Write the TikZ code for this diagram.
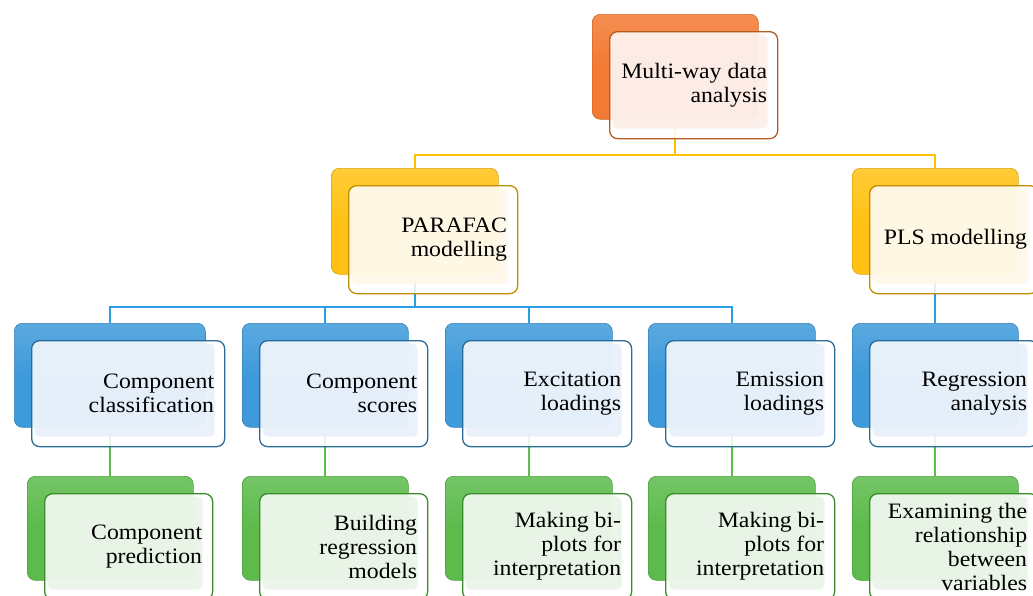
\documentclass[tikz,border=0pt]{standalone}
\usepackage{fontspec}
\setmainfont[FakeStretch=1.08]{Liberation Serif}
\usetikzlibrary{calc,backgrounds}
\definecolor{orback}{HTML}{F37A33}
\definecolor{orline}{HTML}{B55A22}
\definecolor{orfill}{HTML}{FDEDE6}
\definecolor{yeback}{HTML}{FFC214}
\definecolor{yeline}{HTML}{BF8F00}
\definecolor{yefill}{HTML}{FEF8E6}
\definecolor{blback}{HTML}{3E9ADA}
\definecolor{blline}{HTML}{2B6B97}
\definecolor{blfill}{HTML}{E6F0FA}
\definecolor{grback}{HTML}{5CBB4B}
\definecolor{grline}{HTML}{3B8A2E}
\definecolor{grfill}{HTML}{E9F4E6}
\definecolor{conY}{HTML}{FFC000}
\definecolor{conB}{HTML}{2C9FE4}
\definecolor{conG}{HTML}{5DBF4B}
\tikzset{
  backbox/.style={anchor=north west, inner sep=0pt, rounded corners=8pt,
    draw=#1back!85!black, line width=0.6pt,
    top color=#1back!85!white, bottom color=#1back, middle color=#1back},
  frontbox/.style={anchor=north west, rounded corners=8pt, draw=#1line,
    line width=1.3pt, fill=white, fill opacity=0.85, inner sep=0pt,
    path picture={\fill[#1fill, rounded corners=5pt]
      ([shift={(3pt,-3pt)}]path picture bounding box.north west) rectangle
      ([shift={(-10pt,10pt)}]path picture bounding box.south east);}},
  boxtext/.style={anchor=east, inner sep=0pt, align=right,
    font=\fontsize{22}{24}\selectfont},
  conn/.style={line width=2pt, draw=#1}
}
\newcommand\tierbox[7]{%
  \node[backbox=#6, minimum width=#4pt, minimum height=#5pt] (#1-b) at (#2,#3) {};
  \node[frontbox=#6, minimum width=#4pt+2pt, minimum height=#5pt+2pt] (#1) at ($(#2,#3)+(17,17)$) {};
  \node[boxtext] (#1-t) at ($(#1.east)+(-11,0)$) {#7};
}
\begin{document}
\begin{tikzpicture}[x=1pt,y=-1pt]
\useasboundingbox (0,0) rectangle (1033,595);
\clip (0,0) rectangle (1033,595);
\tierbox{top}{592}{14}{166}{105}{or}{Multi-way data\\ analysis}
\tierbox{par}{331}{168}{167}{106}{ye}{PARAFAC\\ modelling}
\tierbox{pls}{852}{168}{166}{106}{ye}{PLS modelling}
\tierbox{cc}{14}{323}{191}{104}{bl}{Component\\ classification}
\tierbox{cs}{242}{323}{166}{104}{bl}{Component\\ scores}
\tierbox{el}{445}{323}{167}{104}{bl}{Excitation\\ loadings}
\tierbox{ml}{648}{323}{167}{104}{bl}{Emission\\ loadings}
\tierbox{ra}{852}{323}{166}{104}{bl}{Regression\\ analysis}
\tierbox{cp}{27}{476}{166}{104}{gr}{Component\\ prediction}
\tierbox{br}{242}{476}{166}{104}{gr}{Building\\ regression\\ models}
\tierbox{mb}{445}{476}{167}{104}{gr}{Making bi-\\ plots for\\ interpretation}
\tierbox{mc}{648}{476}{167}{104}{gr}{Making bi-\\ plots for\\ interpretation}
\tierbox{et}{852}{476}{166}{104}{gr}{Examining the\\ relationship\\ between\\ variables}
\begin{pgfonlayer}{background}
  \coordinate (bus1) at (0,155);
  \coordinate (bus2) at (0,307);
  \draw[conn=conY] (top-b.south) -- (top-b.south |- bus1) -| (par-b.north);
  \draw[conn=conY] (top-b.south |- bus1) -| (pls-b.north);
  \draw[conn=conB] (par-b.south) -- (par-b.south |- bus2) -| (cc-b.north);
  \draw[conn=conB] (par-b.south |- bus2) -| (cs-b.north);
  \draw[conn=conB] (par-b.south |- bus2) -| (el-b.north);
  \draw[conn=conB] (par-b.south |- bus2) -| (ml-b.north);
  \draw[conn=conB] (pls-b.south) -- (pls-b.south |- ra-b.north);
  \draw[conn=conG] (cc-b.south) -- (cc-b.south |- cp-b.north);
  \draw[conn=conG] (cs-b.south) -- (cs-b.south |- br-b.north);
  \draw[conn=conG] (el-b.south) -- (el-b.south |- mb-b.north);
  \draw[conn=conG] (ml-b.south) -- (ml-b.south |- mc-b.north);
  \draw[conn=conG] (ra-b.south) -- (ra-b.south |- et-b.north);
\end{pgfonlayer}
\end{tikzpicture}
\end{document}
